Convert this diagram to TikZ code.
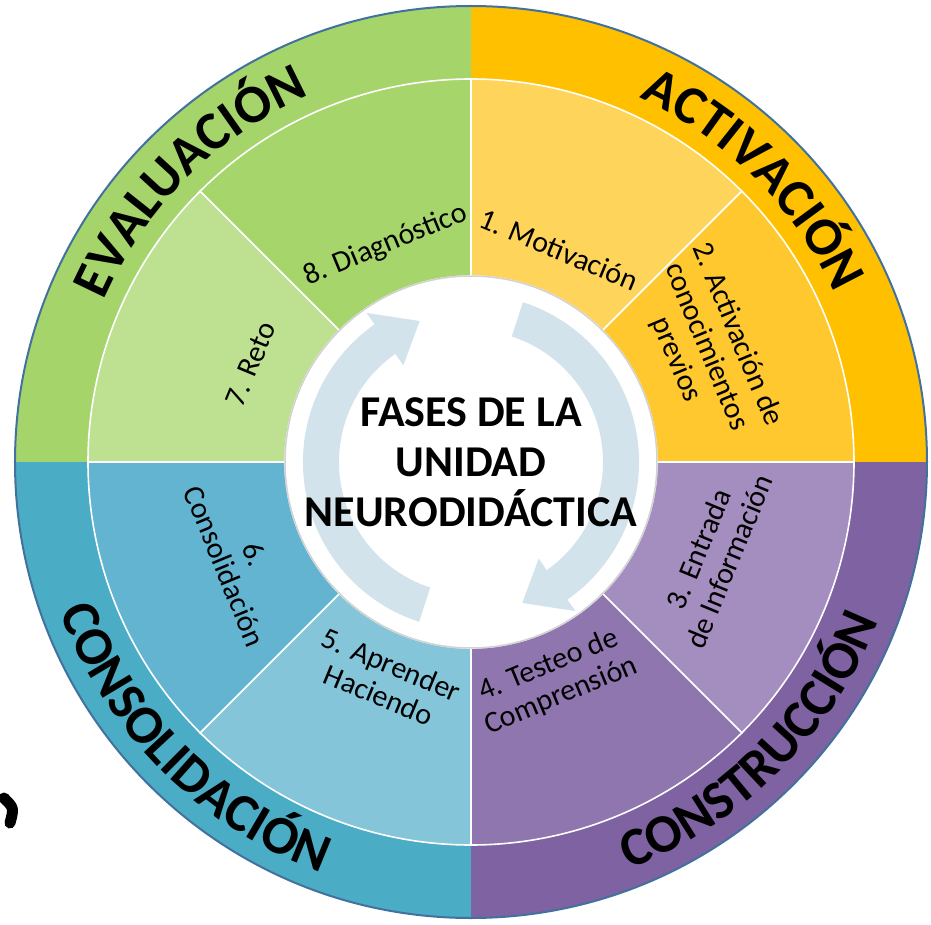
\documentclass[tikz,border=0pt]{standalone}
\usepackage{fontspec}
\setmainfont{Carlito}
\usetikzlibrary{decorations.text}
\definecolor{cgreen}{HTML}{A5D46B}
\definecolor{cgreenA}{HTML}{A6D56C}
\definecolor{cgreenB}{HTML}{BDE091}
\definecolor{corange}{HTML}{FFC000}
\definecolor{corangeA}{HTML}{FFD45B}
\definecolor{corangeB}{HTML}{FFC82E}
\definecolor{cpurple}{HTML}{7E62A1}
\definecolor{cpurpleA}{HTML}{A48DBF}
\definecolor{cpurpleB}{HTML}{8F76AF}
\definecolor{cblue}{HTML}{4BACC6}
\definecolor{cblueA}{HTML}{85C5D9}
\definecolor{cblueB}{HTML}{62B4D0}
\definecolor{cring}{HTML}{41719C}
\definecolor{carrow}{HTML}{D2E3EC}
\newcommand\ringfont{\fontsize{54}{54}\selectfont\bfseries}
\tikzset{
  quarter/.style={fill=#1},
  segment/.style={fill=#1, draw=white, line width=1.6pt},
  phase/.style={font=\fontsize{30}{33}\selectfont, align=center, inner sep=0pt},
  title/.style={font=\fontsize{44}{50}\selectfont\bfseries, align=center, inner sep=0pt},
  ringtext/.style={decorate, decoration={text along path, text align=center, text={|\ringfont|#1}}},
  turn/.style={fill=carrow},
}

\begin{document}
\begin{tikzpicture}[x=1pt, y=1pt]
  \useasboundingbox (-471,-462) rectangle (460,462);
  % outer ring, four quarters
  \fill[quarter=corange] (0,0) -- (0:456) arc[start angle=0, end angle=90, radius=456] -- cycle;
  \fill[quarter=cgreen] (0,0) -- (90:456) arc[start angle=90, end angle=180, radius=456] -- cycle;
  \fill[quarter=cblue] (0,0) -- (180:456) arc[start angle=180, end angle=270, radius=456] -- cycle;
  \fill[quarter=cpurple] (0,0) -- (270:456) arc[start angle=270, end angle=360, radius=456] -- cycle;
  \draw[cring, line width=2pt] (0,0) circle[radius=456];
  % eight phases
  \foreach \a/\b/\c in {45/90/corangeA, 0/45/corangeB, -45/0/cpurpleA, -90/-45/cpurpleB,
                        -135/-90/cblueA, 180/225/cblueB, 135/180/cgreenB, 90/135/cgreenA}
    \draw[segment=\c] (\a:186) -- (\a:383) arc[start angle=\a, end angle=\b, radius=383]
      -- (\b:186) arc[start angle=\b, end angle=\a, radius=186] -- cycle;
  \draw[draw=gray!35, line width=1.5pt, fill=white] (0,0) circle[radius=186];
  % cycle arrows
  \fill[turn] (72:168) arc[start angle=72, end angle=-55, radius=168] -- (-55:182) -- (-70:150)
    -- (-55:118) -- (-55:132) arc[start angle=-55, end angle=72, radius=132] -- cycle;
  \fill[turn] (252:168) arc[start angle=252, end angle=125, radius=168] -- (125:182) -- (110:150)
    -- (125:118) -- (125:132) arc[start angle=125, end angle=252, radius=132] -- cycle;
  \node[title] (title) at (0,0) {FASES DE LA\\UNIDAD\\NEURODIDÁCTICA};
  % phase labels
  \node[phase, rotate=-22.5] (s1) at (67.5:230) {1. Motivación};
  \node[phase, rotate=-67.5] (s2) at (26:262) {2. Activación de\\conocimientos\\previos};
  \node[phase, rotate=67.5] (s3) at (-21:260) {3. Entrada\\de Información};
  \node[phase, rotate=22.5] (s4) at (-69:234) {4. Testeo de\\Comprensión};
  \node[phase, rotate=-22.5] (s5) at (-111.5:234) {5. Aprender\\Haciendo};
  \node[phase, rotate=-67.5] (s6) at (203:251) {6.\\Consolidación};
  \node[phase, rotate=67.5] (s7) at (156:241) {7. Reto};
  \node[phase, rotate=22.5] (s8) at (111.5:233) {8. Diagnóstico};
  % ring titles
  \path[ringtext=EVALUACIÓN] (180:401) arc[start angle=180, end angle=90, radius=401];
  \path[ringtext=ACTIVACIÓN] (90:401) arc[start angle=90, end angle=0, radius=401];
  \path[ringtext=CONSOLIDACIÓN] (180:437) arc[start angle=180, end angle=270, radius=437];
  \path[ringtext=CONSTRUCCIÓN] (270:437) arc[start angle=270, end angle=360, radius=437];
  % stray mark
  \draw[line width=11pt, line cap=round] (-467,-336) .. controls (-457,-346) .. (-461,-361);
\end{tikzpicture}
\end{document}
